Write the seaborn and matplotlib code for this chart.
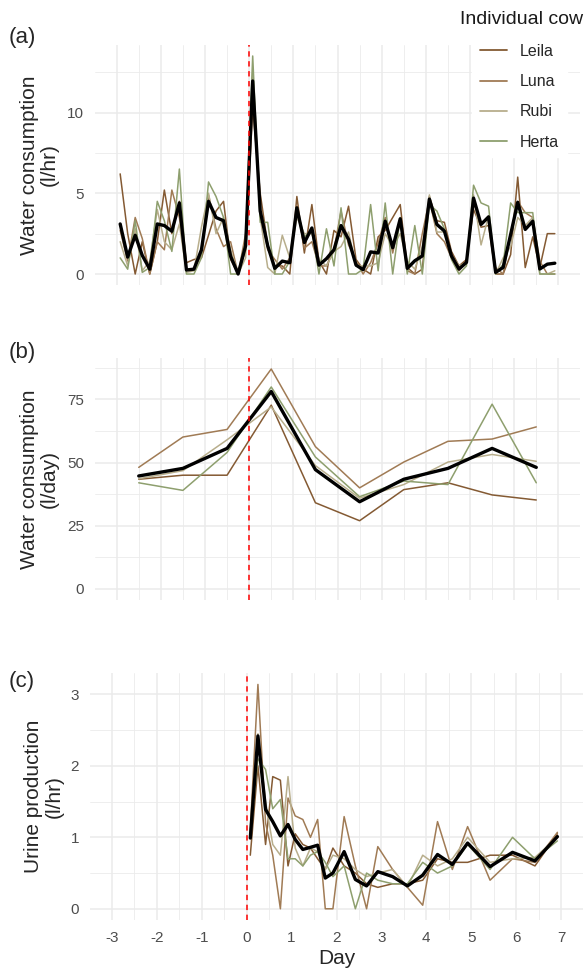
import pandas as pd
import matplotlib
matplotlib.use("Agg")
import matplotlib.pyplot as plt
import seaborn as sns
from matplotlib.lines import Line2D
from matplotlib.ticker import MultipleLocator

cows = ["Leila", "Luna", "Rubi", "Herta"]
cow_colors = ["#845A33", "#A07B55", "#B8AE8C", "#8E9F6E"]

# (a) water consumption, 4-hour bins (l/hr)
hour_day = [-2.92, -2.75, -2.58, -2.42, -2.25, -2.08,
            -1.92, -1.75, -1.58, -1.42, -1.25, -1.08,
            -0.92, -0.75, -0.58, -0.42, -0.25, -0.08,
            0.08, 0.25, 0.42, 0.58, 0.75, 0.92,
            1.08, 1.25, 1.42, 1.58, 1.75, 1.92,
            2.08, 2.25, 2.42, 2.58, 2.75, 2.92,
            3.08, 3.25, 3.42, 3.58, 3.75, 3.92,
            4.08, 4.25, 4.42, 4.58, 4.75, 4.92,
            5.08, 5.25, 5.42, 5.58, 5.75, 5.92,
            6.08, 6.25, 6.42, 6.58, 6.75, 6.92]
leila_hr = [6.2, 2.5, 0.0, 2.0, 0.0, 2.0, 5.2, 2.5, 4.5, 0.7, 0.9, 1.0,
            2.4, 3.9, 4.5, 0.9, 0.0, 1.5, 10.3, 5.0, 1.8, 0.5, 0.5, 0.0,
            4.8, 1.3, 4.3, 0.8, 0.0, 2.7, 2.3, 4.2, 0.9, 0.3, 0.0, 2.3,
            2.7, 3.5, 4.3, 0.4, 0.0, 0.3, 4.8, 3.3, 3.2, 1.4, 0.5, 0.9,
            4.0, 2.9, 3.0, 0.0, 0.0, 1.2, 6.0, 0.4, 2.3, 0.4, 2.5, 2.5]
luna_hr = [2.7, 0.8, 3.5, 2.2, 0.0, 2.0, 1.5, 5.2, 3.5, 0.3, 0.3, 1.2,
           4.9, 2.8, 1.7, 2.0, 0.0, 2.5, 11.5, 4.0, 1.5, 0.9, 0.3, 1.0,
           4.2, 1.6, 2.0, 0.5, 0.5, 1.5, 3.9, 1.8, 0.8, 0.0, 0.7, 1.9,
           3.5, 1.3, 3.4, 0.2, 0.0, 2.5, 4.6, 2.5, 2.0, 1.0, 0.2, 0.8,
           4.4, 3.2, 3.4, 0.4, 0.0, 2.5, 4.5, 3.8, 3.5, 0.8, 0.0, 0.0]
rubi_hr = [2.0, 0.5, 2.8, 0.2, 0.8, 4.0, 2.0, 1.5, 3.1, 0.1, 0.2, 2.9,
           5.0, 2.5, 3.5, 1.5, 0.0, 1.0, 12.5, 3.5, 0.4, 0.0, 2.4, 1.0,
           3.5, 2.5, 2.5, 0.9, 0.5, 1.4, 1.7, 2.6, 0.5, 0.5, 0.5, 0.7,
           2.5, 1.7, 2.5, 0.8, 0.3, 1.7, 4.9, 2.6, 2.6, 1.2, 0.5, 0.7,
           4.9, 1.8, 3.6, 0.0, 1.0, 1.7, 3.5, 3.0, 3.5, 0.0, 0.0, 0.2]
herta_hr = [1.0, 0.3, 3.3, 0.1, 0.4, 4.5, 3.3, 1.4, 6.5, 0.0, 0.0, 1.0,
            5.7, 4.8, 3.5, 0.0, 0.0, 2.0, 13.5, 3.2, 3.2, 0.0, 0.0, 0.8,
            4.0, 2.3, 2.7, 0.0, 2.8, 0.5, 4.1, 0.0, 0.0, 0.3, 4.3, 0.2,
            4.4, 0.0, 3.5, 0.0, 3.0, 0.0, 4.3, 3.9, 2.8, 0.9, 0.0, 0.5,
            5.5, 4.4, 4.2, 0.0, 0.6, 4.4, 3.8, 3.8, 3.8, 0.0, 0.0, 0.0]
mean_hr = [3.1, 1.05, 2.4, 1.15, 0.3, 3.1, 3.0, 2.65, 4.4, 0.25, 0.3, 1.5,
           4.5, 3.5, 3.3, 1.1, 0.0, 1.75, 11.95, 3.9, 1.75, 0.35, 0.8, 0.7,
           4.1, 1.95, 2.85, 0.55, 0.95, 1.5, 3.0, 2.15, 0.55, 0.27, 1.37, 1.3,
           3.27, 1.63, 3.42, 0.35, 0.82, 1.12, 4.64, 3.07, 2.66, 1.12, 0.31, 0.72,
           4.7, 3.07, 3.54, 0.1, 0.41, 2.45, 4.44, 2.76, 3.27, 0.31, 0.61, 0.67]

# (b) daily water consumption (l/day)
day_b = [-2.5, -1.5, -0.5, 0.5, 1.5, 2.5, 3.5, 4.5, 5.5, 6.5]
leila_day = [43.4, 45.0, 45.0, 72.7, 34.1, 27.0, 39.3, 42.0, 37.2, 35.2]
luna_day = [48.1, 60.1, 63.1, 87.0, 56.3, 40.0, 50.2, 58.4, 59.3, 64.1]
rubi_day = [43.6, 46.8, 59.0, 72.0, 48.8, 35.9, 41.3, 50.2, 53.2, 50.5]
herta_day = [42.0, 39.0, 54.0, 79.9, 52.2, 36.5, 42.7, 41.3, 73.1, 42.0]
mean_day = [44.7, 47.7, 55.6, 78.1, 47.2, 34.5, 43.4, 47.7, 55.6, 48.1]

# (c) urine production (l/hr)
day_c = [0.08, 0.25, 0.42, 0.58, 0.75, 0.92, 1.08, 1.25, 1.42, 1.58, 1.75, 1.92,
         2.17, 2.42, 2.67, 2.92, 3.25, 3.58, 3.92, 4.25, 4.58, 4.92, 5.42, 5.92,
         6.42, 6.92]
leila_urine = [0.75, 2.0, 0.9, 1.85, 1.8, 0.6, 1.05, 0.9, 0.85, 0.7, 0.55, 0.85,
               0.6, 0.5, 0.35, 0.3, 0.35, 0.35, 0.4, 0.7, 0.65, 0.65, 0.75, 0.75,
               0.6, 1.05]
luna_urine = [1.1, 3.14, 1.2, 0.75, 0.0, 1.55, 1.3, 1.25, 1.0, 1.25, 0.0, 0.0,
              1.29, 0.6, 0.0, 0.87, 0.55, 0.3, 0.05, 1.22, 0.55, 1.15, 0.4, 0.7,
              0.65, 1.07]
rubi_urine = [1.05, 2.45, 1.5, 0.9, 0.75, 1.85, 0.85, 0.6, 0.85, 0.8, 0.55, 0.75,
              0.7, 0.55, 0.45, 0.5, 0.55, 0.3, 0.75, 0.6, 0.7, 1.0, 0.65, 0.7,
              0.72, 1.0]
herta_urine = [1.05, 2.1, 1.95, 1.4, 1.53, 0.7, 0.7, 0.6, 0.75, 0.8, 0.65, 0.45,
               0.6, 0.0, 0.5, 0.4, 0.35, 0.35, 0.65, 0.5, 0.6, 0.9, 0.55, 1.0,
               0.7, 0.95]
mean_urine = [0.99, 2.42, 1.39, 1.22, 1.02, 1.18, 0.97, 0.83, 0.86, 0.89, 0.43, 0.50,
              0.80, 0.41, 0.32, 0.52, 0.45, 0.32, 0.47, 0.76, 0.62, 0.92, 0.59, 0.79,
              0.67, 1.01]

x_ticks = [-3, -2, -1, 0, 1, 2, 3, 4, 5, 6, 7]
x_tick_labels = ["-3", "-2", "-1", "0", "1", "2", "3", "4", "5", "6", "7"]


def long_frame(x, series):
    parts = [pd.DataFrame({"Day": x, "value": vals, "Cow": cow})
             for cow, vals in zip(cows, series)]
    return pd.concat(parts, ignore_index=True)


sns.set_theme(style="white")
plt.rcParams["font.family"] = ["Liberation Sans", "DejaVu Sans"]

W, H = 587, 972
fig = plt.figure(figsize=(W / 100, H / 100), dpi=100)


def px_axes(left, right, top, bottom):
    return fig.add_axes([left / W, 1 - bottom / H, (right - left) / W, (bottom - top) / H])


panels = [
    dict(ax=px_axes(95, 580, 45, 285), x=hour_day,
         series=[leila_hr, luna_hr, rubi_hr, herta_hr], mean=mean_hr,
         ylim=(-0.68, 14.18), major=5, minor=2.5, label="Water consumption\n(l/hr)",
         tag="(a)", tag_y=37, labx=-0.074),
    dict(ax=px_axes(95, 580, 358, 600), x=day_b,
         series=[leila_day, luna_day, rubi_day, herta_day], mean=mean_day,
         ylim=(-4.35, 91.35), major=25, minor=12.5, label="Water consumption\n(l/day)",
         tag="(b)", tag_y=352, labx=-0.074),
    dict(ax=px_axes(90, 583, 673, 920), x=day_c,
         series=[leila_urine, luna_urine, rubi_urine, herta_urine], mean=mean_urine,
         ylim=(-0.157, 3.3), major=1, minor=0.5, label="Urine production\n(l/hr)",
         tag="(c)", tag_y=682, labx=-0.053),
]

for i, p in enumerate(panels):
    ax = p["ax"]
    df = long_frame(p["x"], p["series"])
    sns.lineplot(data=df, x="Day", y="value", hue="Cow", hue_order=cows,
                 palette=cow_colors, estimator=None, linewidth=1.1,
                 legend=False, ax=ax)
    sns.lineplot(x=p["x"], y=p["mean"], color="black", linewidth=2.4,
                 estimator=None, ax=ax)
    ax.axvline(0, color="#FF0000", linestyle=(0, (3.5, 3)), linewidth=1.1, zorder=5)

    ax.set_xlim(-3.49, 7.49)
    ax.set_ylim(*p["ylim"])
    ax.set_xticks(x_ticks)
    ax.xaxis.set_minor_locator(MultipleLocator(0.5))
    ax.yaxis.set_major_locator(MultipleLocator(p["major"]))
    ax.yaxis.set_minor_locator(MultipleLocator(p["minor"]))
    ax.grid(which="major", color="#EBEBEB", linewidth=1.1)
    ax.grid(which="minor", color="#EBEBEB", linewidth=0.6)
    ax.set_axisbelow(True)
    for s in ax.spines.values():
        s.set_visible(False)
    ax.tick_params(which="both", length=0, labelsize=11, labelcolor="#4D4D4D", pad=8)
    ax.set_ylabel(p["label"], fontsize=15, linespacing=1.1)
    ax.yaxis.set_label_coords(p["labx"], 0.5)
    if i < 2:
        ax.set_xticklabels([])
        ax.set_xlabel("")
    else:
        ax.set_xticklabels(x_tick_labels)
        ax.set_xlabel("Day", fontsize=15, labelpad=3)
    fig.text(9 / W, 1 - p["tag_y"] / H, p["tag"], fontsize=16, va="center", ha="left")

# legend drawn over the top-right of panel (a)
fig.text(460 / W, 1 - 19 / H, "Individual cow", fontsize=14, va="center", ha="left",
         color="#1A1A1A")
handles = [Line2D([], [], color=c, linewidth=1.3) for c in cow_colors]
leg = fig.legend(handles, cows, loc="upper left", bbox_to_anchor=(472 / W, 1 - 36 / H),
                 frameon=True, fontsize=11.5, handlelength=1.7, handletextpad=0.8,
                 labelspacing=0.95, borderpad=0.5, borderaxespad=0)
leg.get_frame().set_facecolor("white")
leg.get_frame().set_edgecolor("white")
leg.get_frame().set_alpha(1)

fig.savefig("out.png", dpi=100)
